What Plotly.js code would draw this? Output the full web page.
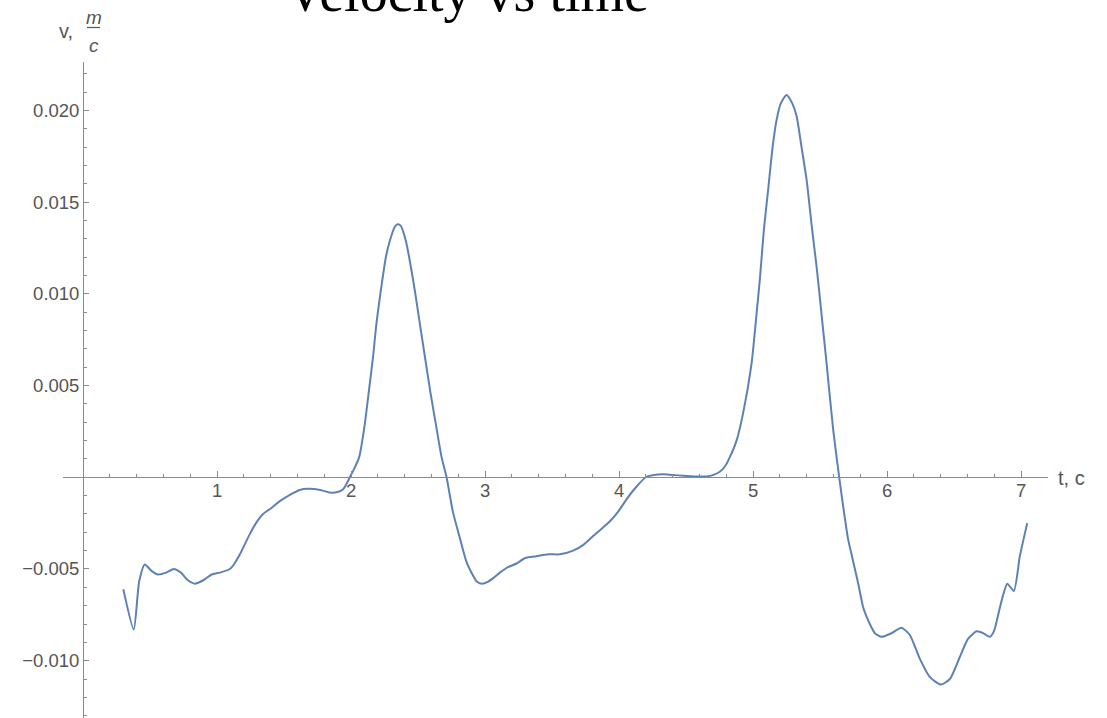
<!DOCTYPE html>
<html>
<head>
<meta charset="utf-8">
<script src="https://cdn.plot.ly/plotly-3.0.1.min.js"></script>
<style>html,body{margin:0;padding:0;background:#fff;}#chart{width:1107px;height:718px;}</style>
</head>
<body>
<div id="chart"></div>
<script>
const tValues = [0.30,0.378,0.418,0.46,0.51,0.56,0.62,0.677,0.73,0.78,0.834,0.90,0.96,1.02,1.095,1.13,1.17,1.21,1.244,1.29,1.343,1.40,1.468,1.54,1.617,1.68,1.77,1.84,1.90,1.94,1.97,1.99,2.025,2.06,2.102,2.134,2.164,2.189,2.222,2.259,2.289,2.326,2.346,2.37,2.408,2.433,2.475,2.51,2.55,2.59,2.632,2.675,2.712,2.76,2.811,2.86,2.898,2.94,2.975,3.02,3.06,3.11,3.17,3.234,3.30,3.384,3.47,3.557,3.657,3.73,3.806,3.87,3.931,4.00,4.055,4.13,4.204,4.26,4.328,4.40,4.478,4.57,4.652,4.70,4.751,4.79,4.826,4.876,4.925,4.988,5.025,5.05,5.08,5.112,5.145,5.175,5.207,5.249,5.291,5.324,5.361,5.399,5.44,5.473,5.51,5.548,5.597,5.642,5.709,5.734,5.759,5.784,5.821,5.846,5.884,5.908,5.958,6.033,6.107,6.169,6.244,6.319,6.40,6.468,6.542,6.604,6.667,6.716,6.766,6.796,6.841,6.866,6.896,6.945,6.99,7.045];
const vValues = [-0.0061,-0.0083,-0.0057,-0.00475,-0.0051,-0.0053,-0.0052,-0.0050,-0.0052,-0.0056,-0.0058,-0.0056,-0.0053,-0.0052,-0.0050,-0.0047,-0.0042,-0.0036,-0.0031,-0.0025,-0.0020,-0.0017,-0.0013,-0.00097,-0.00069,-0.00063,-0.00069,-0.00083,-0.00080,-0.00065,-0.0003,0.0,0.0005,0.0011,0.0029,0.0048,0.0066,0.0084,0.0102,0.0120,0.0129,0.01366,0.0138,0.01372,0.0129,0.0120,0.0102,0.0085,0.0066,0.0047,0.0029,0.0011,0.0,-0.0019,-0.0033,-0.0046,-0.0052,-0.0057,-0.0058,-0.0057,-0.0055,-0.0052,-0.0049,-0.0047,-0.0044,-0.0043,-0.0042,-0.0042,-0.0040,-0.0037,-0.0032,-0.0028,-0.0024,-0.0018,-0.0012,-0.0005,0.00003,0.00013,0.00016,0.00012,0.00009,0.00005,0.00005,0.00012,0.0003,0.0006,0.0011,0.0020,0.0035,0.0062,0.0089,0.0108,0.0135,0.0157,0.0180,0.0195,0.0204,0.02085,0.0204,0.0197,0.0180,0.0162,0.0135,0.0115,0.0089,0.0062,0.0026,0.0,-0.0034,-0.0042,-0.0050,-0.0058,-0.0071,-0.0076,-0.0082,-0.0085,-0.0087,-0.0085,-0.0082,-0.0086,-0.0099,-0.0109,-0.0113,-0.0110,-0.0098,-0.0088,-0.0084,-0.0085,-0.0087,-0.0084,-0.0071,-0.0064,-0.0058,-0.0062,-0.0043,-0.0025];

const xTickVals = [1,2,3,4,5,6,7];
const xTickText = ["1","2","3","4","5","6","7"];
const yTickVals = [-0.010,-0.005,0.005,0.010,0.015,0.020];
const yTickText = ["\u22120.010","\u22120.005","0.005","0.010","0.015","0.020"];

const axisColor = "#8a8a8a";
const labelColor = "#555555";
const tickFont = {family: "Liberation Sans, Arial, sans-serif", size: 18.5, color: labelColor};

const W = 1107, H = 718;
const mL = 63, mR = 59, mT = 62, mB = 0;
const pw = W - mL - mR, ph = H - mT - mB;
function px(x){ return (x - mL) / pw; }
function py(y){ return (H - mB - y) / ph; }

const xr = [-0.15, 7.2];
const yr = [-0.013125, 0.022645];

const data = [{
  x: tValues, y: vValues, type: "scatter", mode: "lines",
  line: {color: "#5e81b5", width: 2, shape: "spline", smoothing: 0.6},
  hoverinfo: "skip", showlegend: false
}];

const layout = {
  width: W, height: H,
  margin: {l: mL, r: mR, t: mT, b: mB, pad: 0},
  paper_bgcolor: "#ffffff", plot_bgcolor: "#ffffff",
  showlegend: false,
  xaxis: {
    range: xr, anchor: "free", position: (0 - yr[0]) / (yr[1] - yr[0]),
    showgrid: false, zeroline: false, showline: true, linecolor: axisColor, linewidth: 1.2,
    tickmode: "array", tickvals: xTickVals, ticktext: xTickText,
    ticks: "inside", ticklen: 6, tickcolor: axisColor, tickwidth: 1,
    tickfont: tickFont, ticklabelstandoff: -4,
    minor: {tick0: 0, dtick: 0.2, ticks: "inside", ticklen: 3.5, tickcolor: axisColor, tickwidth: 1, showgrid: false}
  },
  yaxis: {
    range: yr, anchor: "free", position: (0 - xr[0]) / (xr[1] - xr[0]),
    showgrid: false, zeroline: false, showline: true, linecolor: axisColor, linewidth: 1.2,
    tickmode: "array", tickvals: yTickVals, ticktext: yTickText,
    ticks: "inside", ticklen: 5, tickcolor: axisColor, tickwidth: 1,
    tickfont: tickFont,
    minor: {tick0: 0, dtick: 0.001, ticks: "inside", ticklen: 3, tickcolor: axisColor, tickwidth: 1, showgrid: false}
  },
  annotations: [
    {text: "Velocity vs time", xref: "paper", yref: "paper", x: px(466.5), y: py(-8), xanchor: "center", yanchor: "middle",
     showarrow: false, font: {family: "Liberation Serif, Times New Roman, serif", size: 56, color: "#000000"}},
    {text: "v,", xref: "paper", yref: "paper", x: px(75), y: py(31), xanchor: "right", yanchor: "middle",
     showarrow: false, font: {family: "Liberation Sans, Arial, sans-serif", size: 20, color: labelColor}},
    {text: "<i>m</i>", xref: "paper", yref: "paper", x: px(93.5), y: py(17), xanchor: "center", yanchor: "middle",
     showarrow: false, font: {family: "Liberation Sans, Arial, sans-serif", size: 19, color: labelColor}},
    {text: "<i>c</i>", xref: "paper", yref: "paper", x: px(93.5), y: py(45), xanchor: "center", yanchor: "middle",
     showarrow: false, font: {family: "Liberation Sans, Arial, sans-serif", size: 19, color: labelColor}},
    {text: "t, c", xref: "paper", yref: "paper", x: px(1056), y: py(478), xanchor: "left", yanchor: "middle",
     showarrow: false, font: {family: "Liberation Sans, Arial, sans-serif", size: 20, color: labelColor}}
  ],
  shapes: [
    {type: "line", xref: "paper", yref: "paper", x0: px(87), x1: px(100), y0: py(27.5), y1: py(27.5),
     line: {color: labelColor, width: 1.2}}
  ]
};

Plotly.newPlot("chart", data, layout, {displayModeBar: false, staticPlot: true});
</script>
</body>
</html>
